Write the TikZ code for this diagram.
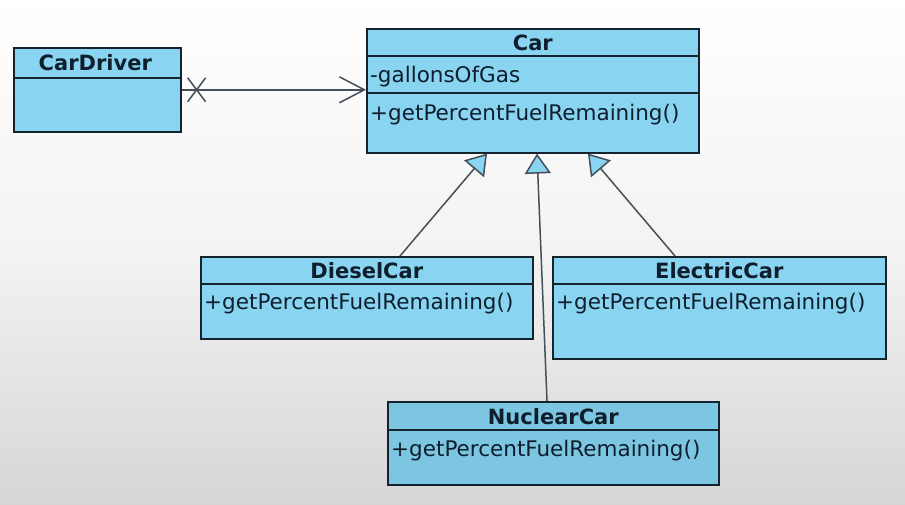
\documentclass[tikz,border=0pt]{standalone}
\usepackage{fontspec}
\setmainfont{DejaVu Sans}
\usetikzlibrary{calc,arrows.meta}
\definecolor{boxfill}{HTML}{88D4F1}
\definecolor{boxfilldark}{HTML}{7CC6E2}
\definecolor{boxline}{HTML}{15232F}
\definecolor{txt}{HTML}{0F1E2C}
\definecolor{bgmid}{HTML}{F3F3F3}
\definecolor{bgbot}{HTML}{D6D6D6}
\tikzset{
  umlbox/.style={draw=boxline, fill=boxfill, line width=1.6pt, anchor=north west, inner sep=0pt},
  divider/.style={draw=boxline, line width=1.6pt},
  titletext/.style={font=\bfseries\fontsize{21}{23}\selectfont, text=txt, inner sep=0pt},
  membertext/.style={font=\fontsize{21.5}{23}\selectfont, text=txt, inner sep=0pt, anchor=west},
  assoc/.style={draw=boxline!80, line width=1.5pt, -{Straight Barb[length=25pt,width=26pt,line width=1.5pt]}},
  gen/.style={draw=boxline!80, line width=1.5pt, -{Triangle[open,length=20pt,width=26pt,line width=1.5pt,fill=boxfill]}},
  xmark/.style={draw=boxline!80, line width=1.5pt}
}
\begin{document}
\begin{tikzpicture}[x=1pt,y=-1pt]
\useasboundingbox (0,0) rectangle (905,505);
\shade[top color=white, bottom color=bgmid] (0,0) rectangle (905,250);
\shade[top color=bgmid, bottom color=bgbot] (0,250) rectangle (905,505);

% CarDriver
\node[umlbox, minimum width=167pt, minimum height=84pt] (cardriver) at (13,47) {};
\draw[divider] ($(cardriver.north west)+(0,31)$) -- ($(cardriver.north east)+(0,31)$);
\node[titletext] (cardrivertitle) at ($(cardriver.north)+(-2,16)$) {CarDriver};

% Car
\node[umlbox, minimum width=332pt, minimum height=124pt] (car) at (366,28) {};
\draw[divider] ($(car.north west)+(0,28)$) -- ($(car.north east)+(0,28)$);
\draw[divider] ($(car.north west)+(0,65)$) -- ($(car.north east)+(0,65)$);
\node[titletext] (cartitle) at ($(car.north)+(0,15)$) {Car};
\node[membertext] (carattr) at ($(car.north west)+(4,49)$) {-gallonsOfGas};
\node[membertext] (carop) at ($(car.north west)+(4,87)$) {+getPercentFuelRemaining()};

% DieselCar
\node[umlbox, minimum width=332pt, minimum height=82pt] (diesel) at (200,256) {};
\draw[divider] ($(diesel.north west)+(0,28)$) -- ($(diesel.north east)+(0,28)$);
\node[titletext] (dieseltitle) at ($(diesel.north)+(0,15)$) {DieselCar};
\node[membertext] (dieselop) at ($(diesel.north west)+(4,48)$) {+getPercentFuelRemaining()};

% ElectricCar
\node[umlbox, minimum width=333pt, minimum height=102pt] (electric) at (552,256) {};
\draw[divider] ($(electric.north west)+(0,28)$) -- ($(electric.north east)+(0,28)$);
\node[titletext] (electrictitle) at ($(electric.north)+(0,15)$) {ElectricCar};
\node[membertext] (electricop) at ($(electric.north west)+(4,48)$) {+getPercentFuelRemaining()};

% NuclearCar
\node[umlbox, fill=boxfilldark, minimum width=331pt, minimum height=83pt] (nuclear) at (387,401) {};
\draw[divider] ($(nuclear.north west)+(0,29)$) -- ($(nuclear.north east)+(0,29)$);
\node[titletext] (nucleartitle) at ($(nuclear.north)+(0,16)$) {NuclearCar};
\node[membertext] (nuclearop) at ($(nuclear.north west)+(4,50)$) {+getPercentFuelRemaining()};

% association CarDriver -> Car
\draw[assoc] (cardriver.east) -- (cardriver.east -| car.west);
\draw[xmark] ($(cardriver.east)+(6,-12)$) -- ($(cardriver.east)+(24,12)$);
\draw[xmark] ($(cardriver.east)+(6,12)$) -- ($(cardriver.east)+(24,-12)$);

% generalizations
\draw[gen] ($(diesel.north west)+(200,0)$) -- ($(car.south west)+(121,0)$);
\draw[gen] ($(nuclear.north west)+(160,0)$) -- ($(car.south west)+(171,0)$);
\draw[gen] ($(electric.north west)+(123,0)$) -- ($(car.south west)+(222,0)$);
\end{tikzpicture}
\end{document}
